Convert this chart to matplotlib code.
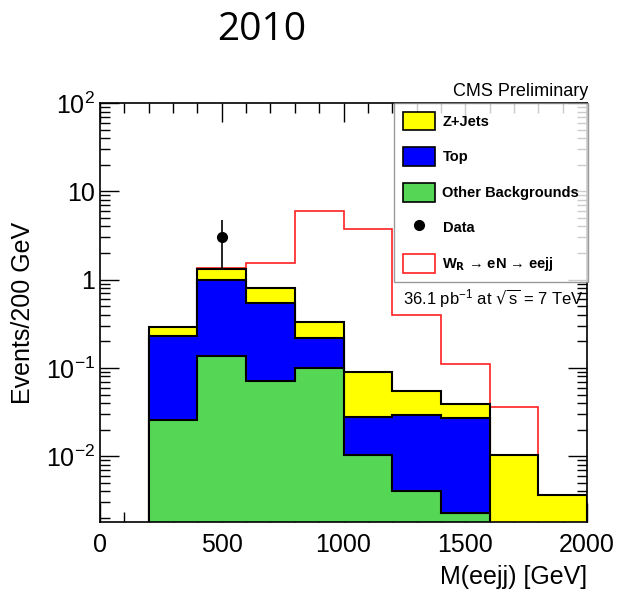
import numpy as np
import matplotlib
matplotlib.use('Agg')
import matplotlib.pyplot as plt
from matplotlib.patches import Patch
from matplotlib.lines import Line2D
from matplotlib.ticker import FixedLocator, FixedFormatter, LogLocator, MultipleLocator

plt.rcParams['font.family'] = ['Liberation Sans', 'DejaVu Sans']
plt.rcParams['mathtext.default'] = 'regular'

# bin edges in GeV
edges = np.arange(0, 2001, 200)
# per-component background yields (events / 200 GeV)
other = [0, 0.026, 0.135, 0.072, 0.10, 0.0102, 0.004, 0.0023, 0, 0]
top = [0, 0.204, 0.865, 0.478, 0.12, 0.0178, 0.025, 0.0247, 0, 0]
zjets = [0, 0.06, 0.33, 0.26, 0.115, 0.063, 0.026, 0.012, 0.0104, 0.0036]
# signal W_R -> eN -> eejj
signal = [0, 0, 1.35, 1.56, 6.0, 3.7, 0.40, 0.11, 0.036, 0]
# data
data_x = [500]
data_y = [3]
data_err_lo = [1.63]
data_err_hi = [1.77]

tiny = 1e-6
c_other = np.array(other)
c_top = c_other + np.array(top)
c_z = c_top + np.array(zjets)

def nz(a):
    a = np.array(a, dtype=float)
    a[a <= 0] = tiny
    return a

fig = plt.figure(figsize=(6.21, 5.97), dpi=100)
ax = fig.add_axes([100/621, 1-522/597, 487/621, 419/597])

ax.stairs(nz(signal), edges, baseline=tiny, fill=False, edgecolor='#ff2020', lw=1.2, zorder=1)
ax.stairs(nz(c_z), edges, baseline=tiny, fill=True, facecolor='#ffff00', edgecolor='black', lw=1.5, zorder=2)
ax.stairs(nz(c_top), edges, baseline=tiny, fill=True, facecolor='#0000ff', edgecolor='black', lw=1.5, zorder=3)
ax.stairs(nz(c_other), edges, baseline=tiny, fill=True, facecolor='#55d655', edgecolor='black', lw=1.5, zorder=4)
ax.errorbar(data_x, data_y, yerr=[data_err_lo, data_err_hi], fmt='o', color='black',
            ms=7, lw=1.2, capsize=0, zorder=6)

ax.set_yscale('log')
ax.set_xlim(0, 2000)
ax.set_ylim(1.8e-3, 100)

ax.yaxis.set_major_locator(FixedLocator([1e-2, 1e-1, 1, 10, 100]))
ax.yaxis.set_major_formatter(FixedFormatter([r'$10^{-2}$', r'$10^{-1}$', '1', '10', r'$10^{2}$']))
ax.yaxis.set_minor_locator(LogLocator(base=10, subs=np.arange(2, 10)))
ax.yaxis.set_minor_formatter(FixedFormatter([]))
ax.xaxis.set_major_locator(MultipleLocator(500))
ax.xaxis.set_minor_locator(MultipleLocator(100))

ax.tick_params(which='both', direction='in', top=True, right=True, labelsize=18)
ax.tick_params(which='major', length=14, width=1)
ax.tick_params(which='minor', length=7, width=1)
ax.tick_params(axis='x', pad=8)
for s in ax.spines.values():
    s.set_linewidth(1.2)
    s.set_zorder(10)

ax.set_ylabel('Events/200 GeV', fontsize=18, labelpad=8)
ax.set_xlabel('M(eejj) [GeV]', fontsize=18, loc='right', labelpad=6)

handles = [
    Patch(facecolor='#ffff00', edgecolor='black', lw=1.2),
    Patch(facecolor='#0000ff', edgecolor='black', lw=1.2),
    Patch(facecolor='#55d655', edgecolor='black', lw=1.2),
    Line2D([], [], marker='o', color='black', ls='none', ms=7),
    Patch(facecolor='white', edgecolor='#ff2020', lw=1.2),
]
labels = ['Z+Jets', 'Top', 'Other Backgrounds', 'Data', r'W$_\mathbf{R}$ → eN → eejj']
leg = fig.legend(handles, labels, loc='upper right', bbox_to_anchor=(588/621, 1-103/597),
                 frameon=True, fancybox=False, edgecolor='gray', borderaxespad=0,
                 prop={'weight': 'bold', 'size': 10.5}, handlelength=2.2, handleheight=1.6,
                 labelspacing=1.15, borderpad=0.6, handletextpad=0.5)
leg.get_frame().set_linewidth(1.0)
leg.set_zorder(20)

fig.text(588/621, 1-96/597, 'CMS Preliminary', ha='right', va='baseline', fontsize=13)
fig.text(493/621, 1-299/597, r'36.1 pb$^{-1}$ at $\sqrt{s}$ = 7 TeV', ha='center', va='center', fontsize=12)
fig.text(262/621, 1-30/597, '2010', ha='center', va='center', fontsize=28,
         family=['Open Sans', 'DejaVu Sans'])

fig.savefig('out.png', dpi=100)
